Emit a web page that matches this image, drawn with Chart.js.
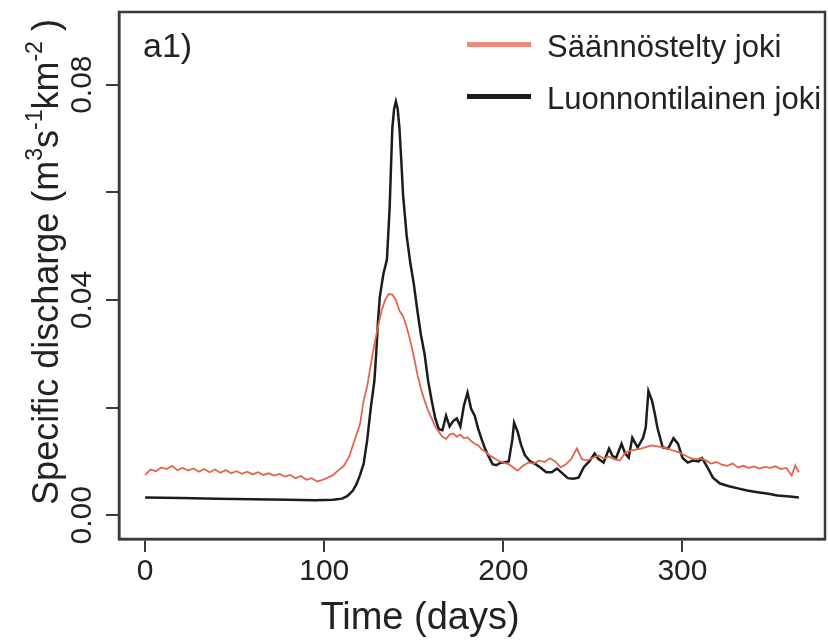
<!DOCTYPE html>
<html>
<head>
<meta charset="utf-8">
<title>Specific discharge</title>
<script src="https://cdn.jsdelivr.net/npm/chart.js@4"></script>
<style>
  html, body { margin: 0; padding: 0; background: #fff; }
  #chart { display: block; }
</style>
</head>
<body>
<canvas id="chart" width="828" height="643"></canvas>
<script>
// ---------------------------------------------------
// Data (day of year -> m3 s-1 km-2)
// ---------------------------------------------------
var regulatedDays = [
  0, 3, 6, 9, 12, 15, 18, 21, 24, 27, 30, 33, 36, 39, 42, 45, 48, 51, 54, 57,
  60, 63, 66, 69, 72, 75, 78, 81, 84, 87, 90, 93, 96, 99, 102, 105, 108, 111, 114, 117,
  120, 122, 124, 126, 128, 130, 132, 134, 136, 138, 140, 142, 144, 146, 148, 150, 152, 154, 156, 158,
  160, 162, 164, 166, 168, 170, 172, 174, 176, 178, 180, 182, 184, 186, 188, 190, 192, 194, 196, 198,
  200, 203, 206, 208, 211, 214, 217, 220, 223, 226, 229, 232, 235, 238, 241, 244, 247, 250, 253, 256,
  259, 262, 265, 268, 271, 274, 277, 280, 283, 286, 289, 292, 295, 298, 301, 304, 307, 310, 313, 316,
  319, 322, 325, 328, 331, 334, 337, 340, 343, 346, 349, 352, 355, 358, 361, 363, 365
];
var regulatedFlow = [
  0.0075, 0.0085, 0.0082, 0.0089, 0.0086, 0.0092, 0.0084, 0.0088, 0.0083, 0.0087,
  0.0081, 0.0086, 0.0080, 0.0085, 0.0079, 0.0084, 0.0078, 0.0082, 0.0077, 0.0081,
  0.0076, 0.0080, 0.0075, 0.0078, 0.0074, 0.0077, 0.0072, 0.0075, 0.0069, 0.0073,
  0.0066, 0.0069, 0.0063, 0.0066, 0.0070, 0.0075, 0.0084, 0.0092, 0.0110, 0.0140,
  0.0170, 0.0213, 0.0240, 0.0280, 0.0318, 0.0350, 0.0380, 0.0400, 0.0411, 0.0410,
  0.0400, 0.0380, 0.0370, 0.0350, 0.0325, 0.0295, 0.0262, 0.0235, 0.0213, 0.0195,
  0.0180, 0.0165, 0.0155, 0.0146, 0.0142, 0.0150, 0.0152, 0.0146, 0.0150, 0.0143,
  0.0145, 0.0138, 0.0133, 0.0130, 0.0122, 0.0118, 0.0112, 0.0108, 0.0104, 0.0100,
  0.0098, 0.0095, 0.0088, 0.0083, 0.0092, 0.0098, 0.0096, 0.0102, 0.0099, 0.0106,
  0.0100, 0.0089, 0.0095, 0.0105, 0.0124, 0.0104, 0.0102, 0.0107, 0.0111, 0.0106,
  0.0109, 0.0104, 0.0102, 0.0116, 0.0120, 0.0122, 0.0124, 0.0127, 0.0130, 0.0128,
  0.0126, 0.0124, 0.0120, 0.0117, 0.0112, 0.0107, 0.0104, 0.0106, 0.0102, 0.0096,
  0.0099, 0.0094, 0.0092, 0.0096, 0.0089, 0.0092, 0.0088, 0.0091, 0.0087, 0.0090,
  0.0088, 0.0091, 0.0086, 0.0088, 0.0074, 0.0093, 0.0080
];

var naturalDays = [
  0, 20, 40, 60, 80, 95, 105, 110, 113, 116, 118, 120, 122, 124, 126, 128, 129, 130, 131, 133,
  135, 136.5, 138, 139, 140, 141, 142, 143, 144, 146, 148, 150, 152, 154, 156, 158, 160, 162, 164, 166,
  168, 170, 172, 174, 176, 178, 180, 182, 184, 186, 188, 190, 192, 194, 196, 198, 200, 203, 205, 206,
  208, 210, 212, 215, 218, 221, 224, 227, 230, 233, 236, 239, 242, 245, 248, 251, 253, 256, 259, 261,
  263, 266, 268, 270, 272, 275, 278, 279.5, 281, 283, 284.5, 286, 289, 292, 295, 297.5, 300, 303, 306, 309,
  311, 314, 317, 321, 326, 331, 336, 342, 348, 353, 360, 365
];
var naturalFlow = [
  0.0033, 0.0032, 0.0031, 0.0030, 0.0029, 0.0028, 0.0029, 0.0031, 0.0036, 0.0046,
  0.0058, 0.0075, 0.0096, 0.0140, 0.0200, 0.0250, 0.0300, 0.0360, 0.0405, 0.0448,
  0.0475, 0.0570, 0.0719, 0.0755, 0.0769, 0.0755, 0.0719, 0.0660, 0.0596, 0.0520,
  0.0470, 0.0430, 0.0380, 0.0335, 0.0300, 0.0250, 0.0213, 0.0180, 0.0160, 0.0158,
  0.0185, 0.0165, 0.0175, 0.0180, 0.0165, 0.0204, 0.0228, 0.0198, 0.0185, 0.0160,
  0.0140, 0.0122, 0.0108, 0.0095, 0.0093, 0.0097, 0.0098, 0.0100, 0.0140, 0.0172,
  0.0155, 0.0130, 0.0112, 0.0100, 0.0095, 0.0088, 0.0080, 0.0080, 0.0087, 0.0078,
  0.0069, 0.0068, 0.0070, 0.0090, 0.0100, 0.0115, 0.0105, 0.0098, 0.0124, 0.0110,
  0.0107, 0.0133, 0.0115, 0.0107, 0.0144, 0.0126, 0.0144, 0.0163, 0.0231, 0.0213,
  0.0190, 0.0163, 0.0126, 0.0124, 0.0143, 0.0133, 0.0107, 0.0098, 0.0102, 0.0100,
  0.0106, 0.0089, 0.0070, 0.0059, 0.0054, 0.0050, 0.0046, 0.0043, 0.0040, 0.0037,
  0.0035, 0.0033
];

var seriesNames = ['Säännöstelty joki', 'Luonnontilainen joki'];
var seriesColors = ['#e4654f', '#1c1c1c'];

var xTicks = [0, 100, 200, 300];
var yTicks = [0, 0.02, 0.04, 0.06, 0.08];
var yTickLabels = ['0.00', '', '0.04', '', '0.08'];

var panelLabel = 'a1)';
var xTitle = 'Time (days)';
// y title pieces: [text, superscript?]
var yTitleParts = [
  ['Specific discharge (m', false], ['3', true], ['s', false], ['-1', true],
  ['km', false], ['-2', true], [' )', false]
];

var FONT = '"Liberation Sans", Arial, Helvetica, sans-serif';
var INK = '#222222';
var FRAME = '#3a3a3a';

function toPoints(days, values) {
  return days.map(function(d, i) { return { x: d, y: values[i] }; });
}

// frame, panel label, legend and axis titles
var decorations = {
  id: 'decorations',
  afterDraw: function(chart) {
    var ctx = chart.ctx;
    var area = chart.chartArea;
    ctx.save();

    // full box round the plot
    ctx.strokeStyle = FRAME;
    ctx.lineWidth = 2.5;
    ctx.strokeRect(area.left, area.top, area.right - area.left, area.bottom - area.top);

    ctx.fillStyle = INK;
    ctx.textBaseline = 'alphabetic';

    // panel label
    ctx.font = '34px ' + FONT;
    ctx.textAlign = 'left';
    ctx.fillText(panelLabel, 143, 57);

    // legend
    ctx.font = '31px ' + FONT;
    chart.data.datasets.forEach(function(ds, i) {
      var cy = 44.5 + i * 52;
      ctx.strokeStyle = i === 0 ? '#f08a76' : ds.borderColor;
      ctx.lineWidth = 5;
      ctx.beginPath();
      ctx.moveTo(467, cy);
      ctx.lineTo(531, cy);
      ctx.stroke();
      ctx.fillText(ds.label, 547, cy + 12);
    });

    // x title
    ctx.font = '38px ' + FONT;
    ctx.textAlign = 'center';
    ctx.fillText(xTitle, 420, 629);

    // y title with superscripts, rotated
    var mainFont = '36px ' + FONT;
    var supFont = '23px ' + FONT;
    var total = 0;
    yTitleParts.forEach(function(p) {
      ctx.font = p[1] ? supFont : mainFont;
      total += ctx.measureText(p[0]).width;
    });
    ctx.translate(58, 262);
    ctx.rotate(-Math.PI / 2);
    ctx.textAlign = 'left';
    var x = -total / 2;
    yTitleParts.forEach(function(p) {
      ctx.font = p[1] ? supFont : mainFont;
      ctx.fillText(p[0], x, p[1] ? -16 : 0);
      x += ctx.measureText(p[0]).width;
    });

    ctx.restore();
  }
};

Chart.defaults.font.family = FONT;

var chart = new Chart(document.getElementById('chart').getContext('2d'), {
  type: 'line',
  data: {
    datasets: [{
      label: seriesNames[0],
      data: toPoints(regulatedDays, regulatedFlow),
      borderColor: seriesColors[0],
      borderWidth: 1.8,
      pointRadius: 0,
      tension: 0,
      fill: false
    }, {
      label: seriesNames[1],
      data: toPoints(naturalDays, naturalFlow),
      borderColor: seriesColors[1],
      borderWidth: 2.5,
      pointRadius: 0,
      tension: 0,
      fill: false
    }]
  },
  options: {
    responsive: false,
    animation: false,
    devicePixelRatio: 1,
    layout: { padding: { top: 10, right: 3, left: 0, bottom: 0 } },
    plugins: {
      legend: { display: false },
      tooltip: { enabled: false }
    },
    scales: {
      x: {
        type: 'linear',
        min: -14.6,
        max: 379.6,
        afterBuildTicks: function(scale) {
          scale.ticks = xTicks.map(function(v) { return { value: v }; });
        },
        afterFit: function(scale) { scale.height = 104; },
        border: { display: true, color: FRAME, width: 2.5 },
        grid: { display: true, drawOnChartArea: false, drawTicks: true, tickLength: 13, color: FRAME, lineWidth: 2 },
        ticks: {
          autoSkip: false,
          maxRotation: 0,
          padding: 2,
          color: INK,
          font: { size: 30 },
          callback: function(value) { return String(value); }
        }
      },
      y: {
        type: 'linear',
        min: -0.0044,
        max: 0.0935,
        afterBuildTicks: function(scale) {
          scale.ticks = yTicks.map(function(v) { return { value: v }; });
        },
        afterFit: function(scale) { scale.width = 119; },
        border: { display: true, color: FRAME, width: 2.5 },
        grid: { display: true, drawOnChartArea: false, drawTicks: true, tickLength: 13, color: FRAME, lineWidth: 2 },
        ticks: {
          autoSkip: false,
          minRotation: 90,
          maxRotation: 90,
          crossAlign: 'center',
          padding: -6,
          color: INK,
          font: { size: 30 },
          callback: function(value) { return yTickLabels[yTicks.indexOf(value)]; }
        }
      }
    }
  },
  plugins: [decorations]
});
</script>
</body>
</html>
